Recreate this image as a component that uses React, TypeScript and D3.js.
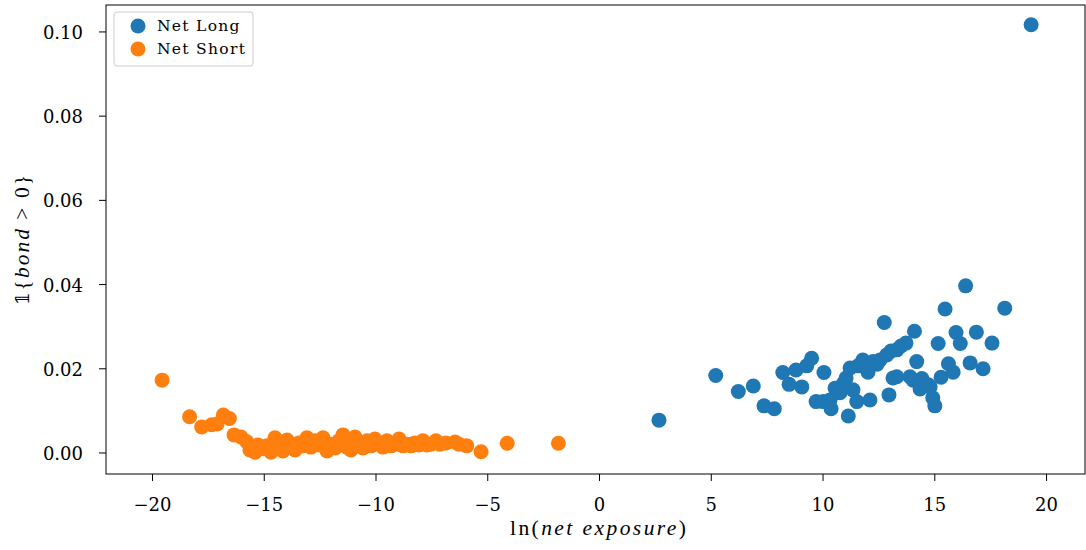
import React from "react";
import * as d3 from "d3";

const longX = [19.31, 2.66, 5.2, 6.21, 6.88, 7.36, 7.82, 8.2, 8.48, 8.79, 9.05, 9.27, 9.49, 9.69, 10.01, 10.04, 10.36, 10.61, 10.31, 10.54, 10.76, 10.98, 10.89, 11.03, 11.13, 11.21, 11.34, 11.51, 11.57, 11.78, 11.92, 12.01, 12.1, 12.24, 12.42, 12.55, 12.74, 12.85, 12.95, 13.04, 13.13, 13.3, 13.3, 13.49, 13.71, 13.89, 14.03, 14.09, 14.19, 14.34, 14.42, 14.71, 14.79, 14.91, 15.0, 15.15, 15.28, 15.46, 15.61, 15.82, 15.95, 16.14, 16.38, 16.58, 16.86, 17.16, 17.56, 18.13];
const longY = [0.1017, 0.0078, 0.0184, 0.0146, 0.0159, 0.0112, 0.0105, 0.0191, 0.0163, 0.0197, 0.0157, 0.0207, 0.0225, 0.0122, 0.0122, 0.0191, 0.0105, 0.0143, 0.0126, 0.0154, 0.0143, 0.0169, 0.0164, 0.0178, 0.0088, 0.0202, 0.015, 0.0122, 0.0207, 0.0221, 0.0207, 0.0192, 0.0126, 0.0217, 0.0211, 0.0221, 0.031, 0.0233, 0.0138, 0.0242, 0.0178, 0.0245, 0.0181, 0.0254, 0.0261, 0.0181, 0.0173, 0.0289, 0.0217, 0.0152, 0.0177, 0.0162, 0.0157, 0.0131, 0.0112, 0.026, 0.018, 0.0342, 0.0212, 0.0192, 0.0286, 0.026, 0.0397, 0.0214, 0.0287, 0.02, 0.0261, 0.0344];

const shortX = [-19.57, -18.34, -17.8, -17.35, -17.11, -16.83, -16.56, -16.35, -16.04, -15.79, -15.64, -15.41, -15.28, -15.06, -14.88, -14.7, -14.52, -14.34, -14.16, -13.98, -13.8, -13.62, -13.45, -13.27, -13.09, -12.91, -12.73, -12.55, -12.37, -12.19, -12.01, -11.83, -11.66, -11.48, -11.3, -11.12, -10.94, -10.76, -10.58, -10.4, -10.22, -10.05, -9.87, -9.69, -9.51, -9.33, -9.15, -8.97, -8.79, -8.61, -8.43, -8.26, -8.08, -7.9, -7.72, -7.54, -7.32, -7.14, -6.87, -6.46, -6.29, -5.94, -5.3, -4.13, -1.84];
const shortY = [0.0173, 0.0086, 0.0062, 0.0067, 0.0069, 0.009, 0.0082, 0.0043, 0.0038, 0.0027, 0.0007, 0.0002, 0.0019, 0.001, 0.0017, 0.0002, 0.0036, 0.0014, 0.0005, 0.0031, 0.0014, 0.0007, 0.0024, 0.0017, 0.0036, 0.0014, 0.0029, 0.0019, 0.0036, 0.0005, 0.0021, 0.0012, 0.0029, 0.0043, 0.0014, 0.0007, 0.0038, 0.0021, 0.0012, 0.0029, 0.0017, 0.0033, 0.0021, 0.0014, 0.0029, 0.0017, 0.0021, 0.0033, 0.0017, 0.0021, 0.0017, 0.0024, 0.0019, 0.0029, 0.0019, 0.0021, 0.0029, 0.0021, 0.0024, 0.0026, 0.0021, 0.0017, 0.0003, 0.0023, 0.0023];

const xTicks = [-20, -15, -10, -5, 0, 5, 10, 15, 20];
const yTicks = [0.0, 0.02, 0.04, 0.06, 0.08, 0.1];
const seriesNames = ["Net Long", "Net Short"];

const W = 1086;
const H = 550;
const left = 106;
const right = 1085;
const top = 5;
const bottom = 474;
const FONT = "'DejaVu Serif', serif";
const LFONT = "'Liberation Serif', serif";
const BLUE = "#1f77b4";
const ORANGE = "#ff7f0e";

export default function App() {
  const x = d3.scaleLinear().domain([-22.08, 21.72]).range([left, right]);
  const y = d3.scaleLinear().domain([-0.00499, 0.1064]).range([bottom, top]);
  const r = 7.5;
  const fmtX = (v: number) => (v < 0 ? "\u2212" + Math.abs(v) : String(v));
  const fmtY = d3.format(".2f");

  return (
    <svg
      width={W}
      height={H}
      style={{ position: "absolute", left: 0, top: 0, display: "block", background: "#fff" }}
    >
      <rect x={0} y={0} width={W} height={H} fill="#fff" />
      {shortX.map((v, i) => (
        <circle key={"s" + i} cx={x(v)} cy={y(shortY[i])} r={r} fill={ORANGE} />
      ))}
      {longX.map((v, i) => (
        <circle key={"l" + i} cx={x(v)} cy={y(longY[i])} r={r} fill={BLUE} />
      ))}
      <rect x={left} y={top} width={right - left} height={bottom - top} fill="none" stroke="#000" strokeWidth={1} />
      {xTicks.map((t) => (
        <g key={"xt" + t}>
          <line x1={x(t)} x2={x(t)} y1={bottom} y2={bottom + 7} stroke="#000" strokeWidth={1} />
          <text x={x(t)} y={511} textAnchor="middle" fontFamily={FONT} fontSize={18} fill="#000">
            {fmtX(t)}
          </text>
        </g>
      ))}
      {yTicks.map((t) => (
        <g key={"yt" + t}>
          <line x1={left - 7} x2={left} y1={y(t)} y2={y(t)} stroke="#000" strokeWidth={1} />
          <text x={83} y={y(t) + 7} textAnchor="end" fontFamily={FONT} fontSize={18} fill="#000">
            {fmtY(t)}
          </text>
        </g>
      ))}
      <text
        x={510}
        y={535}
        fontFamily={LFONT}
        fontSize={21.5}
        fill="#000"
        textLength={176}
        lengthAdjust="spacing"
      >
        ln(<tspan fontStyle="italic">net exposure</tspan>)
      </text>
      <text
        transform={`translate(29, 305) rotate(-90)`}
        fontFamily={LFONT}
        fontSize={21.5}
        fill="#000"
        textLength={130}
        lengthAdjust="spacing"
      >
        <tspan fontFamily={FONT} fontSize={18}>{"\u{1D7D9}"}</tspan>
        {"{"}
        <tspan fontStyle="italic">bond</tspan>
        {" > 0}"}
      </text>
      <g>
        <rect x={114} y={12} width={139} height={54} rx={3} fill="#fff" fillOpacity={0.8} stroke="#ccc" strokeWidth={1} />
        {seriesNames.map((n, i) => (
          <g key={n}>
            <circle cx={138} cy={26 + i * 23} r={7.5} fill={i === 0 ? BLUE : ORANGE} />
            <text x={157} y={31 + i * 23} fontFamily={FONT} fontSize={15.5} fill="#000" letterSpacing={1.3}>
              {n}
            </text>
          </g>
        ))}
      </g>
    </svg>
  );
}
